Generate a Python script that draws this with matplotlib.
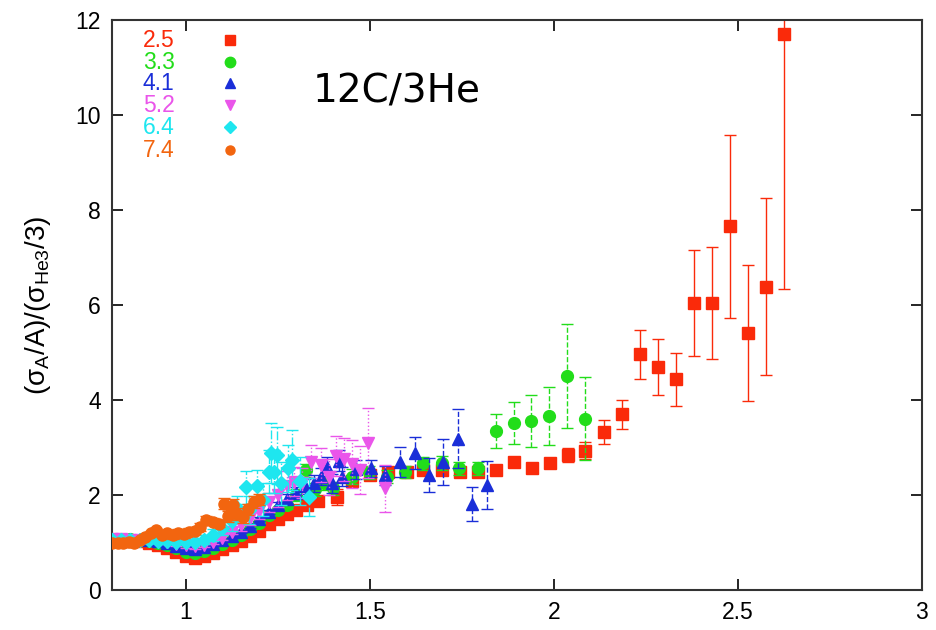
import numpy as np
import matplotlib
matplotlib.use("Agg")
import matplotlib.pyplot as plt

plt.rcParams['font.family'] = ['Liberation Sans', 'DejaVu Sans']
plt.rcParams['mathtext.fontset'] = 'custom'
plt.rcParams['mathtext.rm'] = 'Liberation Sans'
plt.rcParams['mathtext.it'] = 'Liberation Sans'

# Q^2 = 2.5 (red squares)
x25 = [0.80, 0.825, 0.85, 0.875, 0.90, 0.925, 0.95, 0.975, 1.00, 1.025, 1.05, 1.075,
       1.10, 1.125, 1.15, 1.175, 1.20, 1.225, 1.25, 1.275, 1.30, 1.33, 1.36, 1.41,
       1.453, 1.50, 1.55, 1.60, 1.646, 1.695, 1.745, 1.793, 1.842, 1.892, 1.941, 1.99,
       2.038, 2.086, 2.135, 2.185, 2.234, 2.283, 2.332, 2.381, 2.43, 2.479, 2.527,
       2.576, 2.625]
y25 = [1.05, 1.05, 1.04, 1.03, 1.00, 0.95, 0.88, 0.80, 0.72, 0.68, 0.72, 0.78,
       0.86, 0.94, 1.03, 1.13, 1.25, 1.38, 1.50, 1.60, 1.68, 1.80, 1.87, 1.95,
       2.30, 2.42, 2.49, 2.48, 2.53, 2.53, 2.48, 2.48, 2.53, 2.69, 2.56, 2.67,
       2.84, 2.93, 3.33, 3.70, 4.96, 4.69, 4.44, 6.04, 6.04, 7.66, 5.42,
       6.39, 11.71]
e25 = [0.03] * 23 + [0.17, 0.08, 0.06, 0.05, 0.05, 0.05, 0.05, 0.05, 0.05, 0.05, 0.06,
       0.06, 0.07, 0.15, 0.18, 0.26, 0.31, 0.51, 0.59, 0.56, 1.12, 1.18, 1.93, 1.43,
       1.86, 5.38]

# Q^2 = 3.3 (green circles)
x33 = [0.80, 0.825, 0.85, 0.875, 0.90, 0.925, 0.95, 0.975, 1.00, 1.025, 1.05, 1.075,
       1.10, 1.125, 1.15, 1.175, 1.20, 1.225, 1.25, 1.275, 1.30, 1.326, 1.35, 1.375,
       1.40, 1.452, 1.497, 1.547, 1.596, 1.646, 1.695, 1.743, 1.793, 1.842, 1.891,
       1.939, 1.988, 2.036, 2.084]
y33 = [1.08, 1.08, 1.07, 1.06, 1.04, 1.00, 0.95, 0.88, 0.80, 0.78, 0.82, 0.89,
       0.97, 1.06, 1.16, 1.28, 1.42, 1.57, 1.69, 1.80, 2.00, 2.52, 2.12, 2.25,
       2.14, 2.39, 2.48, 2.39, 2.49, 2.67, 2.67, 2.56, 2.56, 3.35, 3.52,
       3.56, 3.66, 4.51, 3.61]
e33 = [0.03] * 19 + [0.10, 0.12, 0.14, 0.14, 0.14, 0.14, 0.15, 0.14, 0.13, 0.13,
       0.14, 0.15, 0.14, 0.14, 0.36, 0.44, 0.55, 0.61, 1.10, 0.87]

# Q^2 = 4.1 (blue triangles)
x41 = [0.80, 0.825, 0.85, 0.875, 0.90, 0.925, 0.95, 0.975, 1.00, 1.025, 1.05, 1.075,
       1.10, 1.125, 1.15, 1.175, 1.20, 1.225, 1.25, 1.275, 1.30, 1.325, 1.349, 1.367,
       1.385, 1.398, 1.416, 1.425, 1.463, 1.504, 1.542, 1.583, 1.622, 1.661, 1.70,
       1.739, 1.779, 1.819]
y41 = [1.08, 1.08, 1.07, 1.07, 1.06, 1.03, 0.99, 0.93, 0.88, 0.86, 0.90, 0.97,
       1.05, 1.13, 1.23, 1.35, 1.50, 1.65, 1.78, 1.92, 2.05, 2.18, 2.25, 2.39,
       2.60, 2.25, 2.72, 2.39, 2.54, 2.56, 2.42, 2.70, 2.88, 2.42, 2.70,
       3.19, 1.81, 2.21]
e41 = [0.04] * 18 + [0.08, 0.10, 0.12, 0.15, 0.18, 0.18, 0.2, 0.2, 0.22, 0.2, 0.2,
       0.17, 0.2, 0.31, 0.34, 0.35, 0.49, 0.62, 0.35, 0.51]

# Q^2 = 5.2 (magenta down triangles)
x52 = [0.80, 0.825, 0.85, 0.875, 0.90, 0.925, 0.95, 0.975, 1.00, 1.025, 1.05, 1.075,
       1.10, 1.125, 1.15, 1.175, 1.20, 1.225, 1.25, 1.275, 1.295, 1.317, 1.34, 1.367,
       1.389, 1.407, 1.43, 1.452, 1.473, 1.495, 1.542]
y52 = [1.07, 1.07, 1.06, 1.06, 1.05, 1.04, 1.01, 0.97, 0.94, 0.92, 0.95, 1.02,
       1.10, 1.22, 1.37, 1.52, 1.67, 1.85, 2.00, 2.20, 2.28, 2.25, 2.70, 2.63,
       2.37, 2.82, 2.75, 2.65, 2.53, 3.09, 2.14]
e52 = [0.05] * 14 + [0.12, 0.15, 0.18, 0.2, 0.25, 0.3, 0.3, 0.32, 0.35, 0.35,
       0.38, 0.42, 0.45, 0.5, 0.5, 0.74, 0.5]

# Q^2 = 6.4 (cyan diamonds)
x64 = [0.80, 0.825, 0.85, 0.875, 0.90, 0.925, 0.95, 0.975, 1.00, 1.025, 1.05, 1.075,
       1.10, 1.125, 1.14, 1.164, 1.173, 1.195, 1.21, 1.225, 1.232, 1.24, 1.248, 1.259,
       1.277, 1.29, 1.31, 1.335]
y64 = [1.05, 1.05, 1.05, 1.05, 1.05, 1.04, 1.03, 1.02, 1.02, 1.02, 1.06, 1.16,
       1.30, 1.45, 1.72, 2.16, 1.68, 2.18, 1.90, 2.49, 2.88, 2.49, 2.84, 2.25,
       2.56, 2.74, 2.30, 1.96]
e64 = [0.05] * 10 + [0.1, 0.12, 0.15, 0.2, 0.25, 0.35, 0.3, 0.35, 0.35, 0.45,
       0.63, 0.45, 0.6, 0.45, 0.5, 0.63, 0.5, 0.4]

# Q^2 = 7.4 (orange dots)
x74 = [0.80, 0.815, 0.83, 0.845, 0.86, 0.875, 0.89, 0.905, 0.92, 0.935, 0.95, 0.965,
       0.98, 0.995, 1.01, 1.025, 1.04, 1.056, 1.074, 1.09, 1.105, 1.115, 1.124, 1.128,
       1.14, 1.155, 1.17, 1.185, 1.20]
y74 = [1.00, 0.98, 1.00, 1.02, 1.00, 1.05, 1.12, 1.20, 1.26, 1.16, 1.19, 1.15,
       1.20, 1.18, 1.23, 1.25, 1.33, 1.47, 1.44, 1.40, 1.82, 1.55, 1.65, 1.79,
       1.60, 1.54, 1.70, 1.85, 1.90]
e74 = [0.05] * 10 + [0.08] * 10 + [0.12] * 9

labels = ['2.5', '3.3', '4.1', '5.2', '6.4', '7.4']
colors = ['#fa2a0a', '#22dd1a', '#1a2ed8', '#ea55ea', '#1ee6ef', '#f2650f']
markers = ['s', 'o', '^', 'v', 'D', 'o']
msizes = [8, 8.5, 8.5, 8.5, 7.5, 8]
estyles = ['-', '--', '--', ':', '-.', ':']

series = [(x25, y25, e25), (x33, y33, e33), (x41, y41, e41),
          (x52, y52, e52), (x64, y64, e64), (x74, y74, e74)]

fig = plt.figure(figsize=(9.36, 6.3), dpi=100)
ax = fig.add_axes([0.1197, 0.0635, 0.8653, 0.9045])

for i, (x, y, e) in enumerate(series):
    eb = ax.errorbar(x, y, yerr=e, fmt=markers[i], color=colors[i], ms=msizes[i],
                     mec=colors[i], elinewidth=1.0, capsize=4, capthick=1.0,
                     zorder=2 + i)
    eb[2][0].set_linestyle(estyles[i])

# legend drawn as text + markers
ly = [0.965, 0.926, 0.889, 0.851, 0.812, 0.772]
lms = [7, 7.5, 7, 7, 6, 6.5]
for i in range(6):
    ax.text(0.038, ly[i], labels[i], transform=ax.transAxes, color=colors[i],
            fontsize=16.5, va='center', ha='left')
    ax.plot([0.146], [ly[i]], markers[i], color=colors[i], ms=lms[i],
            transform=ax.transAxes, clip_on=False)

ax.text(0.351, 0.874, '12C/3He', transform=ax.transAxes, fontsize=28,
        family='DejaVu Sans', ha='center', va='center', color='black')

ax.set_xlim(0.8, 3.0)
ax.set_ylim(0, 12)
ax.set_xticks([1, 1.5, 2, 2.5, 3])
ax.set_xticklabels(['1', '1.5', '2', '2.5', '3'])
ax.set_yticks(range(0, 13, 2))
ax.tick_params(direction='in', length=8, width=1.2, top=True, right=True,
               labelsize=16.5, pad=8)
for s in ax.spines.values():
    s.set_linewidth(1.5)
    s.set_color('#333333')

ax.set_ylabel(r'$\mathrm{(\sigma_A/A)/(\sigma_{He3}/3)}$', fontsize=20, labelpad=16)

fig.savefig('out.png', dpi=100)
